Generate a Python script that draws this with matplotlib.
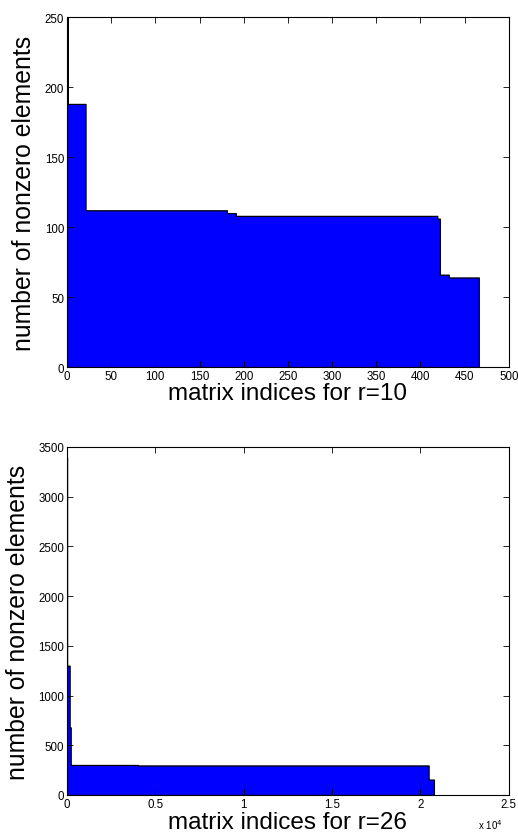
import numpy as np
import matplotlib
matplotlib.use("Agg")
import matplotlib.pyplot as plt
from matplotlib.ticker import FuncFormatter

plt.rcParams['font.family'] = ['Liberation Sans', 'DejaVu Sans']

# r=10: sorted nonzero counts, as (value, number of matrices) runs
vals_10 = [250, 188, 112, 110, 108, 106, 66, 64]
runs_10 = [1, 20, 160, 10, 228, 3, 10, 34]

# r=26
vals_26 = [3400, 1300, 680, 302, 297, 155]
runs_26 = [1, 150, 60, 3800, 16450, 300]

xticks_10 = [0, 50, 100, 150, 200, 250, 300, 350, 400, 450, 500]
yticks_10 = [0, 50, 100, 150, 200, 250]
xticks_26 = [0, 5000, 10000, 15000, 20000, 25000]
yticks_26 = [0, 500, 1000, 1500, 2000, 2500, 3000, 3500]


def staircase(vals, runs):
    y = np.repeat(vals, runs).astype(float)
    x = np.arange(len(y) + 1)
    y = np.append(y, y[-1])
    return x, y


def style(ax, xlabel, pad):
    ax.tick_params(direction='in', length=4, width=0.6, top=True, right=True,
                   labelsize=8.3, pad=2)
    for s in ax.spines.values():
        s.set_linewidth(0.8)
    ax.set_xlabel(xlabel, fontsize=17.5, labelpad=pad)
    ax.set_ylabel('number of nonzero elements', fontsize=17.8, labelpad=6)


fig = plt.figure(figsize=(5.18, 8.37), dpi=100)

ax1 = fig.add_axes([0.1293, 0.5603, 0.853, 0.418])
x, y = staircase(vals_10, runs_10)
ax1.fill_between(x, y, step='post', facecolor='#0000ff', edgecolor='black', linewidth=0.9)
ax1.set_xlim(0, 500)
ax1.set_ylim(0, 250)
ax1.set_xticks(xticks_10)
ax1.set_yticks(yticks_10)
style(ax1, 'matrix indices for r=10', 0)

ax2 = fig.add_axes([0.1293, 0.049, 0.853, 0.4158])
x, y = staircase(vals_26, runs_26)
ax2.fill_between(x, y, step='post', facecolor='#0000ff', edgecolor='black', linewidth=0.9)
ax2.set_xlim(0, 25000)
ax2.set_ylim(0, 3500)
ax2.set_xticks(xticks_26)
ax2.set_yticks(yticks_26)
ax2.xaxis.set_major_formatter(FuncFormatter(lambda v, p: '%g' % (v / 1e4)))
style(ax2, 'matrix indices for r=26', 1)
ax2.text(0.985, -0.085, r'x 10$^4$', transform=ax2.transAxes, fontsize=7, ha='right', va='center')

fig.savefig('out.png', dpi=100)
